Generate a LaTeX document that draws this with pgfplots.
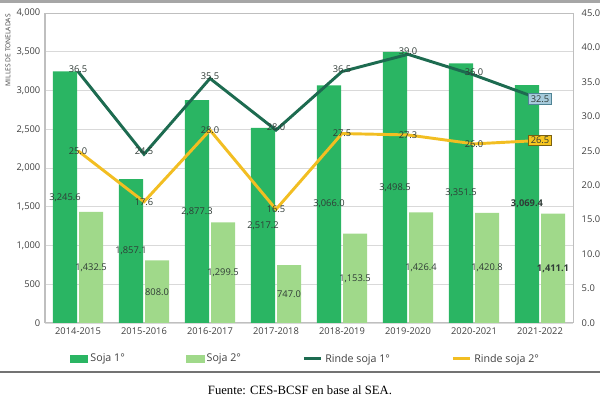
\documentclass[border=0pt]{standalone}
\usepackage{pgfplots}
\pgfplotsset{compat=1.18}
\usepackage{fontspec}
\setmainfont{Open Sans}
\newfontfamily\fuentefont{Liberation Serif}

\definecolor{sojaA}{HTML}{2AB563}
\definecolor{sojaB}{HTML}{A0D98A}
\definecolor{rindeA}{HTML}{1D6B50}
\definecolor{rindeB}{HTML}{F2BE22}
\definecolor{gridc}{HTML}{D9D9D9}
\definecolor{framec}{HTML}{BFBFBF}
\definecolor{labc}{HTML}{2F3B36}
\definecolor{ticklab}{HTML}{404040}
\definecolor{boxA}{HTML}{A6CADB}
\definecolor{boxAd}{HTML}{4F8495}
\definecolor{boxB}{HTML}{F7C51E}
\definecolor{boxBd}{HTML}{7A6012}

\begin{document}
\begin{tikzpicture}[font=\fontsize{7}{8}\selectfont]
\useasboundingbox (0,0) rectangle (450pt,300pt);
% marco de la figura
\draw[gray!70, line width=2.25pt] (0,299pt) -- (450pt,299pt);
\draw[gray!90!black, line width=1.1pt] (0,21pt) -- (450pt,21pt);
\node[font=\fuentefont\fontsize{9.5}{11}\selectfont] at (225pt,7.5pt) {Fuente: CES-BCSF en base al SEA.};

% produccion (eje izquierdo)
\begin{axis}[
    at={(33.75pt,57.75pt)}, anchor=south west,
    scale only axis, width=396pt, height=232.5pt,
    xmin=-0.5, xmax=7.5, ymin=0, ymax=4000,
    xtick={0,...,7},
    xticklabels={2014-2015,2015-2016,2016-2017,2017-2018,2018-2019,2019-2020,2020-2021,2021-2022},
    ytick distance=500,
    scaled y ticks=false,
    ymajorgrids, grid style={gridc, line width=0.6pt},
    major tick length=0pt,
    axis line style={framec, line width=0.75pt},
    tick label style={ticklab},
    yticklabel style={/pgf/number format/.cd, fixed, 1000 sep={,}, assume math mode=true},
    ylabel={MILLES DE TONELADAS},
    ylabel style={font=\fontsize{5}{6}\selectfont, ticklab, at={(axis description cs:-0.07,0.88)}, anchor=center},
    ybar, bar width=18pt,
    visualization depends on={y \as \rawy},
    visualization depends on={value \coordindex \as \idx},
    nodes near coords={\ifnum\idx=7 \bfseries\fi\pgfmathprintnumber[fixed,fixed zerofill,precision=1,1000 sep={,},assume math mode=true]{\pgfplotspointmeta}},
    every node near coord/.append style={anchor=center, text=labc, font=\fontsize{7}{8}\selectfont, shift={(axis direction cs:0,-\rawy/2)}},
    ]

    % Soja 1
    \addplot[fill=sojaA, draw=none, bar shift=-9.75pt]
    coordinates {(0,3245.6) (1,1857.1) (2,2877.3) (3,2517.2) (4,3066.0) (5,3498.5) (6,3351.5) (7,3069.4)};

    % Soja 2
    \addplot[fill=sojaB, draw=none, bar shift=9.75pt]
    coordinates {(0,1432.5) (1,808.0) (2,1299.5) (3,747.0) (4,1153.5) (5,1426.4) (6,1420.8) (7,1411.1)};

\end{axis}

% rendimientos (eje derecho)
\begin{axis}[
    at={(33.75pt,57.75pt)}, anchor=south west,
    scale only axis, width=396pt, height=232.5pt,
    xmin=-0.5, xmax=7.5, ymin=0, ymax=45,
    axis x line=none, xtick=\empty,
    axis y line*=right,
    axis line style={draw=none},
    ytick distance=5,
    major tick length=0pt,
    yticklabel style={ticklab, xshift=3pt, /pgf/number format/.cd, fixed, fixed zerofill, precision=1, assume math mode=true},
    legend columns=4,
    legend style={draw=none, fill=none, at={(0.494,-0.116)}, anchor=center,
        font=\fontsize{8}{9}\selectfont, text=ticklab,
        /tikz/every even column/.append style={column sep=44pt}},
    legend image code/.code={\draw[#1] (0pt,0pt) -- (13pt,0pt);},
    visualization depends on={value \coordindex \as \idx},
    ]

    \addlegendimage{legend image code/.code={\fill[sojaA] (0pt,-2.5pt) rectangle (13pt,2.5pt);}}
    \addlegendentry{Soja 1°}
    \addlegendimage{legend image code/.code={\fill[sojaB] (0pt,-2.5pt) rectangle (13pt,2.5pt);}}
    \addlegendentry{Soja 2°}

    % Rinde soja 1
    \addplot[rindeA, line width=2.2pt, mark=none,
        nodes near coords={\ifnum\idx<7 \pgfmathprintnumber[fixed,fixed zerofill,precision=1,assume math mode=true]{\pgfplotspointmeta}\fi},
        every node near coord/.append style={anchor=center, yshift=2pt, text=labc}]
    coordinates {(0,36.5) (1,24.5) (2,35.5) (3,28.0) (4,36.5) (5,39.0) (6,36.0) (7,32.5)};
    \addlegendentry{Rinde soja 1°}

    % Rinde soja 2
    \addplot[rindeB, line width=2.2pt, mark=none,
        nodes near coords={\ifnum\idx<7 \pgfmathprintnumber[fixed,fixed zerofill,precision=1,assume math mode=true]{\pgfplotspointmeta}\fi},
        every node near coord/.append style={anchor=center, text=labc}]
    coordinates {(0,25.0) (1,17.6) (2,28.0) (3,16.5) (4,27.5) (5,27.3) (6,26.0) (7,26.5)};
    \addlegendentry{Rinde soja 2°}

    % ultimas etiquetas con recuadro
    \addplot[forget plot, draw=none, mark=none,
        nodes near coords={\pgfmathprintnumber[fixed,fixed zerofill,precision=1,assume math mode=true]{\pgfplotspointmeta}},
        every node near coord/.append style={anchor=center, fill=boxA, draw=boxAd, line width=0.6pt, inner sep=1.5pt, text=labc}]
    coordinates {(7,32.5)};
    \addplot[forget plot, draw=none, mark=none,
        nodes near coords={\pgfmathprintnumber[fixed,fixed zerofill,precision=1,assume math mode=true]{\pgfplotspointmeta}},
        every node near coord/.append style={anchor=center, fill=boxB, draw=boxBd, line width=0.6pt, inner sep=1.5pt, text=labc}]
    coordinates {(7,26.5)};

\end{axis}
\end{tikzpicture}
\end{document}
